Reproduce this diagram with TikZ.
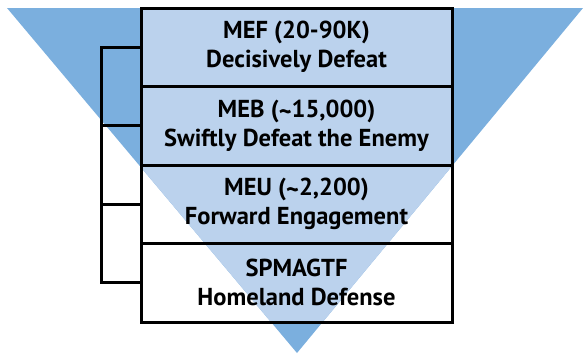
\documentclass[tikz,border=0pt]{standalone}
\usepackage{fontspec}
\setmainfont{PT Sans}
\usetikzlibrary{positioning}
\definecolor{outerblue}{HTML}{7BAFDE}
\definecolor{innerblue}{HTML}{BBD2ED}
\newcommand{\approxsign}{\raisebox{-0.12em}{\textasciitilde}}
\tikzset{
	tier/.style={draw, line width=3pt, outer sep=0pt, inner sep=0pt,
		minimum width=311pt, minimum height=78.5pt, align=center,
		font=\fontsize{24.5}{29}\selectfont\bfseries},
	bracket/.style={line width=3pt}
}
\begin{document}
\begin{tikzpicture}[x=1pt,y=-1pt]
	\useasboundingbox (0,0) rectangle (583,354);
	
	\coordinate (tl) at (7,8);
	\coordinate (tr) at (583,8);
	\coordinate (tip) at (297,353);
	\fill[outerblue] (tl) -- (tr) -- (tip) -- cycle;
	
	\begin{scope}
		\clip (tl) -- (tr) -- (tip) -- cycle;
		\fill[innerblue] (141,8) rectangle (452,322);
	\end{scope}
	
	\node[tier] (mef) at (296.5,47.25) {MEF (20-90K)\\Decisively Defeat};
	\node[tier, below=0pt of mef] (meb) {MEB (\approxsign15,000)\\Swiftly Defeat the Enemy};
	\node[tier, below=0pt of meb] (meu) {MEU (\approxsign2,200)\\Forward Engagement};
	\node[tier, below=0pt of meu] (spm) {SPMAGTF\\Homeland Defense};
	
	\draw[bracket] (mef.west) -- ++(-40,0) |- (spm.west);
	\draw[bracket] (meb.west) -- ++(-40,0);
	\draw[bracket] (meu.west) -- ++(-40,0);
	
\end{tikzpicture}
\end{document}
